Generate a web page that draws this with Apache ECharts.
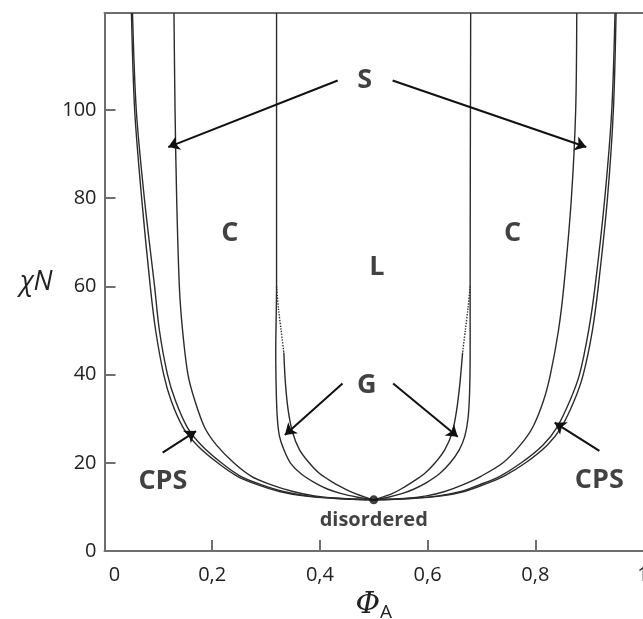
<!DOCTYPE html>
<html>
<head>
<meta charset="utf-8">
<script src="https://cdn.jsdelivr.net/npm/echarts@6/dist/echarts.min.js"></script>
<style>
  html, body { margin: 0; padding: 0; background: #fff; overflow: hidden; }
  #chart { width: 643px; height: 619px; }
</style>
</head>
<body>
<div id="chart"></div>
<script>
// phase boundaries, points are [phiA, chiN], from top down to the critical point
const odtLeft = [[0.050, 122], [0.056, 100], [0.069, 80], [0.085, 60], [0.095, 50], [0.110, 40], [0.124, 34], [0.146, 28], [0.172, 24], [0.210, 20], [0.246, 17], [0.285, 15], [0.325, 13.5], [0.370, 12.5], [0.430, 11.9], [0.5, 11.6]];
const cpsLeft = [[0.052, 122], [0.059, 100], [0.074, 80], [0.093, 60], [0.102, 50], [0.117, 40], [0.132, 34], [0.154, 28], [0.180, 24], [0.217, 20], [0.252, 17], [0.292, 15], [0.332, 13.5], [0.377, 12.5], [0.435, 11.9], [0.5, 11.6]];
const scLeft = [[0.129, 122], [0.131, 100], [0.134, 80], [0.139, 60], [0.145, 50], [0.155, 40], [0.168, 34], [0.186, 28], [0.208, 24], [0.240, 20], [0.272, 17], [0.310, 15], [0.350, 13.5], [0.390, 12.5], [0.440, 11.9], [0.5, 11.6]];
const cgLeft = [[0.3195, 122], [0.3195, 60], [0.318, 45], [0.319, 36], [0.321, 30], [0.325, 26], [0.333, 23], [0.345, 20], [0.365, 17.5], [0.390, 15.5], [0.415, 14], [0.440, 13], [0.470, 12.2], [0.5, 11.6]];
const glLeftDotted = [[0.3195, 60], [0.323, 55], [0.328, 50], [0.333, 45]];
const glLeft = [[0.333, 45], [0.336, 38], [0.341, 32], [0.349, 27], [0.362, 23], [0.380, 20], [0.400, 17.5], [0.425, 15.5], [0.448, 14], [0.466, 13], [0.484, 12.2], [0.5, 11.6]];

const odtRight = [[0.950, 122], [0.945, 100], [0.934, 80], [0.917, 60], [0.906, 50], [0.889, 40], [0.872, 34], [0.848, 28], [0.822, 24], [0.782, 20], [0.742, 17], [0.703, 15], [0.668, 13.5], [0.626, 12.5], [0.570, 11.9], [0.5, 11.6]];
const cpsRight = [[0.948, 122], [0.942, 100], [0.929, 80], [0.911, 60], [0.899, 50], [0.882, 40], [0.864, 34], [0.840, 28], [0.814, 24], [0.774, 20], [0.735, 17], [0.696, 15], [0.662, 13.5], [0.620, 12.5], [0.565, 11.9], [0.5, 11.6]];
const scRight = [[0.877, 122], [0.875, 100], [0.867, 80], [0.853, 60], [0.843, 50], [0.828, 40], [0.815, 34], [0.795, 28], [0.772, 24], [0.740, 20], [0.700, 17], [0.665, 15], [0.632, 13.5], [0.598, 12.5], [0.558, 11.9], [0.5, 11.6]];
const cgRight = [[0.680, 122], [0.679, 60], [0.679, 45], [0.678, 36], [0.675, 30], [0.669, 26], [0.659, 23], [0.642, 20], [0.622, 17.5], [0.598, 15.5], [0.574, 14], [0.552, 13], [0.527, 12.2], [0.5, 11.6]];
const glRightDotted = [[0.679, 60], [0.675, 55], [0.670, 50], [0.665, 45]];
const glRight = [[0.665, 45], [0.660, 38], [0.654, 32], [0.646, 27], [0.632, 23], [0.614, 20], [0.594, 17.5], [0.570, 15.5], [0.550, 14], [0.534, 13], [0.516, 12.2], [0.5, 11.6]];

const criticalPoint = [[0.5, 11.6]];

const xTicks = [0, 0.2, 0.4, 0.6, 0.8, 1];
const xTickLabels = ['0', '0,2', '0,4', '0,6', '0,8', '1'];
const yTicks = [0, 20, 40, 60, 80, 100];

// region labels and arrows, in data coords
const regionLabels = [
  { name: 'S', value: [0.483, 106.7] },
  { name: 'C', value: [0.233, 72.0] },
  { name: 'L', value: [0.5056, 64.3] },
  { name: 'C', value: [0.758, 72.0] },
  { name: 'G', value: [0.487, 37.6] },
  { name: 'CPS', value: [0.1085, 15.9] },
  { name: 'CPS', value: [0.919, 16.1] }
];
const arrows = [
  [[0.433, 106.7], [0.1184, 91.6]],
  [[0.535, 106.7], [0.8946, 91.6]],
  [[0.442, 38.0], [0.335, 26.3]],
  [[0.536, 38.0], [0.656, 25.9]],
  [[0.108, 22.3], [0.170, 27.2]],
  [[0.919, 22.7], [0.836, 29.1]]
];

const lineColor = '#2b2b2b';
const axisColor = '#6e6e6e';
const font = '"Open Sans", "Noto Sans", sans-serif';

function curve(data, dotted) {
  return {
    type: 'line',
    data: data,
    showSymbol: false,
    smooth: 0.3,
    silent: true,
    lineStyle: { color: lineColor, width: 1.4, type: dotted ? 'dotted' : 'solid' },
    z: 3
  };
}

const chart = echarts.init(document.getElementById('chart'));

chart.setOption({
  animation: false,
  backgroundColor: '#fff',
  grid: { left: 104.5, right: 0, top: 13, bottom: 68, containLabel: false, outerBoundsMode: 'none' },
  xAxis: [{
    type: 'value', min: 0, max: 1,
    axisLine: { lineStyle: { color: axisColor, width: 2 } },
    axisTick: { inside: true, length: 11, customValues: xTicks.slice(1, 5), lineStyle: { color: axisColor, width: 2 } },
    axisLabel: {
      customValues: xTicks,
      margin: 14,
      fontSize: 20,
      fontFamily: font,
      color: '#222',
      formatter: (v) => {
        const s = xTickLabels[xTicks.indexOf(v)];
        return v === 0 ? '{z|' + s + '}' : s;
      },
      rich: { z: { fontSize: 20, fontFamily: font, color: '#222', padding: [0, 0, 0, 20] } }
    },
    splitLine: { show: false },
    name: '{phi|Φ}{sub|A}',
    nameLocation: 'middle',
    nameGap: 33,
    nameTextStyle: {
      rich: {
        phi: { fontSize: 30, fontStyle: 'italic', fontFamily: '"DejaVu Serif", "Liberation Serif", serif', color: '#222' },
        sub: { fontSize: 19, fontFamily: font, color: '#222', padding: [16, 0, 0, 0] }
      }
    }
  }, {
    type: 'value', min: 0, max: 1, position: 'top',
    axisLine: { lineStyle: { color: axisColor, width: 2 } },
    axisTick: { show: false }, axisLabel: { show: false }, splitLine: { show: false }
  }],
  yAxis: {
    type: 'value', min: 0, max: 122,
    axisLine: { lineStyle: { color: axisColor, width: 2 } },
    axisTick: { inside: true, length: 11, customValues: yTicks.slice(1), lineStyle: { color: axisColor, width: 2 } },
    axisLabel: { customValues: yTicks, margin: 8, fontSize: 20, fontFamily: font, color: '#222' },
    splitLine: { show: false },
    name: 'χN',
    nameLocation: 'middle',
    nameRotate: 0,
    nameGap: 52,
    nameTextStyle: { fontSize: 27, fontStyle: 'italic', fontFamily: font, color: '#222' }
  },
  series: [
    curve(odtLeft), curve(cpsLeft), curve(scLeft), curve(cgLeft), curve(glLeftDotted, true), curve(glLeft),
    curve(odtRight), curve(cpsRight), curve(scRight), curve(cgRight), curve(glRightDotted, true), curve(glRight),
    {
      type: 'scatter',
      data: criticalPoint,
      symbolSize: 9,
      itemStyle: { color: '#111' },
      label: {
        show: true, position: 'bottom', distance: 6,
        formatter: 'disordered',
        fontSize: 20, fontWeight: 'bold', fontFamily: font, color: '#111'
      },
      z: 5
    },
    {
      type: 'scatter',
      data: regionLabels,
      symbolSize: 0,
      label: {
        show: true, position: 'inside', formatter: '{b}',
        fontSize: 27, fontWeight: 'bold', fontFamily: font, color: '#111'
      },
      z: 6
    },
    {
      type: 'lines',
      coordinateSystem: 'cartesian2d',
      data: arrows.map((c) => ({ coords: c })),
      symbol: ['none', 'arrow'],
      symbolSize: 11,
      lineStyle: { color: '#111', width: 2, opacity: 1 },
      z: 6
    }
  ]
});
</script>
</body>
</html>
